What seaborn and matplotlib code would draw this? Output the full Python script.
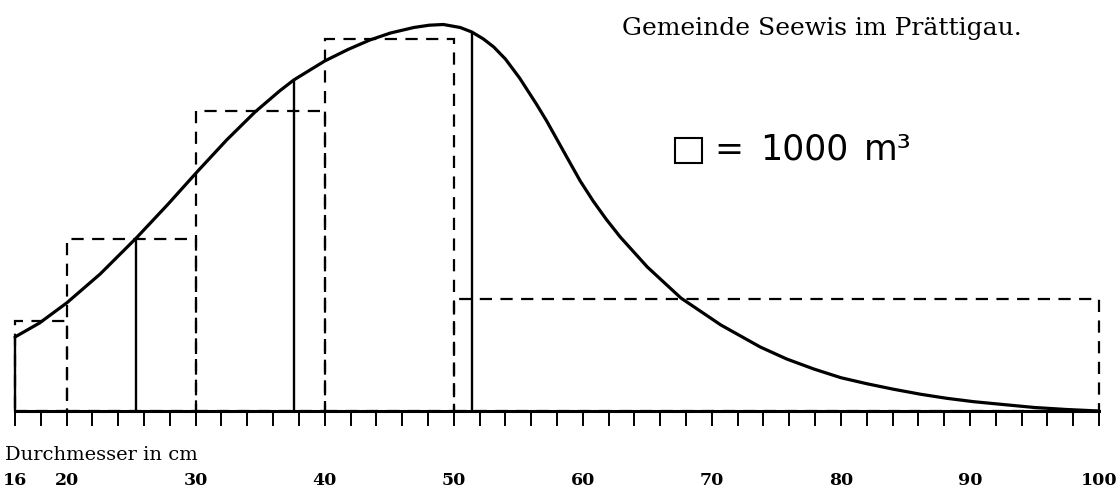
import numpy as np
import pandas as pd
import matplotlib
matplotlib.use("Agg")
import matplotlib.pyplot as plt
from matplotlib.patches import Rectangle
import seaborn as sns

# ---- data (x in cm, heights in relative units) ----
bin_edges = [16, 20, 30, 40, 50, 100]
bin_heights = [90, 172, 300, 372, 112]

curve_x = [16.0, 17.9, 20.0, 22.6, 25.4, 27.8, 30.1, 32.4, 34.6, 36.5, 37.6,
           40.0, 41.8, 43.5, 45.1, 46.9, 48.1, 49.2, 50.5, 51.4, 52.3, 53.1,
           54.0, 55.1, 56.4, 57.2, 58.8, 59.8, 60.8, 61.8, 62.9, 65.0, 67.6,
           70.7, 73.75, 75.8, 77.9, 80.0, 82.0, 84.1, 86.2, 88.2, 90.3, 92.4,
           95.0, 97.5, 100.0]
curve_y = [74, 88, 108, 137, 173, 206, 239, 271, 299, 320, 331,
           350, 361.5, 371, 378, 383.5, 385.8, 386.5, 383.5, 379, 372, 364,
           352, 333, 307, 290, 253, 230, 210, 192, 174, 144, 113,
           86, 64, 52, 42, 33.3, 27.3, 21.7, 16.7, 12.7, 9.3, 6.7,
           3.5, 1.5, 0]

mark_x = [16, 25.4, 37.6, 51.4]
mark_y = [74, 173, 331, 379]

major_ticks = [16, 20, 30, 40, 50, 60, 70, 80, 90, 100]
minor_ticks = list(range(16, 101, 2))

title = "Gemeinde Seewis im Prättigau."
legend_parts = ["=", "1000", "m³"]
xlabel = "Durchmesser in cm"

sns.set_style("white")

W, H = 1120, 497
fig = plt.figure(figsize=(W / 100, H / 100), dpi=100)
ax = fig.add_axes([15 / W, (H - 411) / H, 1084 / W, 400 / H])

centers = [(a + b) / 2 for a, b in zip(bin_edges[:-1], bin_edges[1:])]
sns.histplot(x=centers, weights=bin_heights, bins=bin_edges, fill=False,
             element="bars", color="black", edgecolor="black",
             linestyle=(0, (5.5, 3.8)), linewidth=1.6, ax=ax)
for p in ax.patches:
    p.set_clip_on(False)

ax.vlines(mark_x, 0, mark_y, color="black", linewidth=1.7, clip_on=False)

df = pd.DataFrame({"x": curve_x, "y": curve_y})
sns.lineplot(data=df, x="x", y="y", color="black", linewidth=2.3, ax=ax,
             sort=False)
for ln in ax.lines:
    ln.set_clip_on(False)
    ln.set_solid_capstyle("round")
    ln.set_solid_joinstyle("round")

ax.set_xlim(16, 100)
ax.set_ylim(0, 400)
for s in ["top", "left", "right"]:
    ax.spines[s].set_visible(False)
ax.spines["bottom"].set_linewidth(2.2)
ax.spines["bottom"].set_color("black")
ax.set_yticks([])
ax.set_xticks(major_ticks)
ax.set_xticks(minor_ticks, minor=True)
ax.set_xticklabels([str(t) for t in major_ticks], fontfamily="DejaVu Serif",
                   fontweight="bold", fontsize=12.5, color="black")
ax.tick_params(axis="x", which="both", bottom=True, direction="out",
               length=11, width=1.4, color="black", pad=33)
ax.set_xlabel("")
ax.set_ylabel("")

fig.text(5 / W, (H - 455) / H, xlabel, fontfamily="DejaVu Serif",
         fontsize=14, va="center", ha="left", color="black")
fig.text(622 / W, (H - 29) / H, title, fontfamily="DejaVu Serif",
         fontsize=18, va="center", ha="left", color="black")
fig.add_artist(Rectangle((675 / W, (H - 163) / H), 27 / W, 25 / H,
                         transform=fig.transFigure, fill=False,
                         edgecolor="black", linewidth=1.5))
for txt, xpx in zip(legend_parts, [714, 760, 864]):
    fig.text(xpx / W, (H - 150) / H, txt, fontfamily="DejaVu Sans",
             fontsize=25, va="center", ha="left", color="black")

fig.savefig("out.png", dpi=100, facecolor="white")
